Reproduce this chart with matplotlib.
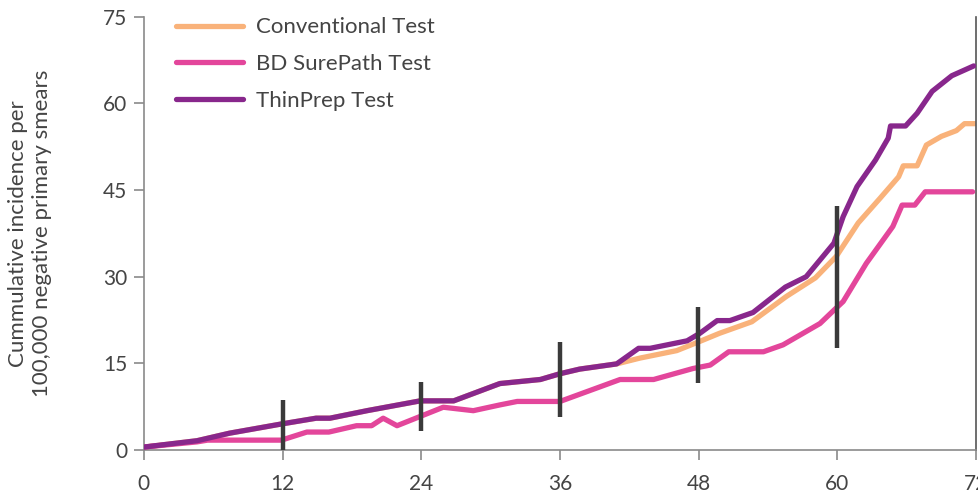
import matplotlib.pyplot as plt

# Months since primary smear
conv_x = [0, 4.6, 7.4, 11.9, 14.9, 16.1, 19.3, 23.9, 26.8, 30.8, 34.3, 36, 37.7, 40.9,
          42.9, 46.1, 48.1, 49.8, 52.6, 55.6, 58.1, 59.9, 61.8, 63.7, 65.3, 65.7, 66.9,
          67.7, 69, 70.3, 71, 71.9]
conv_y = [0.5, 1.6, 2.9, 4.5, 5.5, 5.5, 6.8, 8.5, 8.5, 11.5, 12.2, 13.2, 14, 14.9,
          15.9, 17.2, 18.8, 20.2, 22.2, 26.6, 29.8, 33.5, 39.3, 43.6, 47.3, 49.2, 49.2,
          52.8, 54.3, 55.3, 56.5, 56.5]

sure_x = [0, 4.6, 5.5, 11.9, 14.1, 16, 18.4, 19.7, 20.7, 21.9, 23.9, 25.9, 28.5, 30.8,
          32.3, 36, 41.2, 44.1, 47.5, 49, 50.6, 53.6, 55.3, 58.5, 59.7, 60.5, 62.5, 64.8,
          65.6, 66.7, 67.6, 71.7]
sure_y = [0.5, 1.4, 1.7, 1.7, 3.1, 3.1, 4.2, 4.2, 5.5, 4.2, 5.8, 7.4, 6.8, 7.8,
          8.4, 8.4, 12.2, 12.2, 14.1, 14.7, 17, 17, 18.2, 21.9, 24.2, 25.7, 32.3, 38.7,
          42.4, 42.4, 44.7, 44.7]

thin_x = [0, 4.6, 7.4, 11.9, 14.9, 16.1, 19.3, 23.9, 26.8, 30.8, 34.3, 36, 37.7, 40.9,
          42.8, 43.8, 47, 48.1, 49.6, 50.7, 52.7, 55.5, 57.3, 59.7, 60.5, 61.7, 63.3,
          64.4, 64.6, 65.9, 66.9, 68.2, 69.9, 71.8]
thin_y = [0.5, 1.6, 2.9, 4.5, 5.5, 5.5, 6.8, 8.5, 8.5, 11.5, 12.2, 13.2, 14, 14.9,
          17.6, 17.6, 18.9, 20.2, 22.4, 22.4, 23.8, 28.2, 30, 35.8, 40.4, 45.6, 50.2,
          54, 56.1, 56.1, 58.3, 62.1, 64.8, 66.5]

# Confidence interval bars
err_x = [12, 24, 36, 47.9, 60]
err_low = [0, 3.3, 5.7, 11.6, 17.7]
err_high = [8.7, 11.8, 18.7, 24.8, 42.3]

x_ticks = [0, 12, 24, 36, 48, 60, 72]
y_ticks = [0, 15, 30, 45, 60, 75]

plt.rcParams['font.family'] = ['Lato', 'DejaVu Sans']

fig = plt.figure(figsize=(9.79, 4.95), dpi=100)
ax = fig.add_axes([0.147, 0.091, 0.85, 0.875])

lw = 3.8
ax.plot(conv_x, conv_y, color="#F9B27A", lw=lw, solid_capstyle="round",
        solid_joinstyle="round", label="Conventional Test", zorder=2)
ax.plot(sure_x, sure_y, color="#E3469B", lw=lw, solid_capstyle="round",
        solid_joinstyle="round", label="BD SurePath Test", zorder=3)
ax.plot(thin_x, thin_y, color="#88278C", lw=lw, solid_capstyle="round",
        solid_joinstyle="round", label="ThinPrep Test", zorder=4)

ax.vlines(err_x, err_low, err_high, color="#3a3a3a", lw=3.2, zorder=5)

ax.set_xlim(0, 72)
ax.set_ylim(0, 75)
ax.set_xticks(x_ticks)
ax.set_yticks(y_ticks)

ax.spines["top"].set_visible(False)
for s in ["left", "bottom"]:
    ax.spines[s].set_color("#8a8a8a")
    ax.spines[s].set_linewidth(1.2)
ax.spines["right"].set_color("#555555")
ax.spines["right"].set_linewidth(1.2)
ax.tick_params(axis="both", colors="#8a8a8a", labelcolor="#444444",
               labelsize=15, length=7, width=1.2, direction="out")
ax.tick_params(axis="x", pad=10)
ax.tick_params(axis="y", pad=5)

ax.set_ylabel("Cummulative incidence per\n100,000 negative primary smears",
              fontsize=16, color="#444444", labelpad=37, linespacing=1.2)

leg = ax.legend(loc="upper left", bbox_to_anchor=(0.015, 1.045), frameon=False,
                fontsize=16, handlelength=3.0, handletextpad=0.6, labelspacing=0.75,
                labelcolor="#444444")

fig.savefig("out.png", dpi=100)
